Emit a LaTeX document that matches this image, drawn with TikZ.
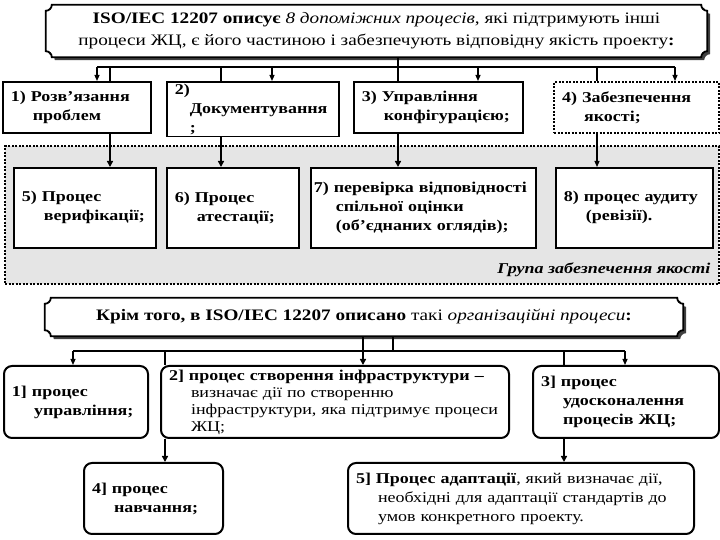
\documentclass[tikz,border=0pt]{standalone}
\usepackage{fontspec}
\setmainfont{Liberation Serif}[FakeStretch=1.2]
\usetikzlibrary{arrows.meta,backgrounds}

\newcommand\boxfont{\fontsize{15}{19}\selectfont}
\newcommand\ind{\hspace*{22pt}}
% plaque outline round a named node (hollow corners)
\newcommand\plaquepath[1]{([yshift=-6pt]#1.north west) arc[start angle=270,end angle=360,radius=6pt]
  -- ([xshift=-6pt]#1.north east) arc[start angle=180,end angle=270,radius=6pt]
  -- ([yshift=6pt]#1.south east) arc[start angle=90,end angle=180,radius=6pt]
  -- ([xshift=6pt]#1.south west) arc[start angle=0,end angle=90,radius=6pt] -- cycle}

\tikzset{
  banner/.style 2 args={minimum width=#1, minimum height=#2, align=center, inner sep=0pt},
  plaque/.style={draw=black, fill=white, line width=1.8pt},
  plaqueshadow/.style={fill=black!75, transform canvas={shift={(3pt,-3pt)}}},
  procbox/.style 2 args={draw, fill=white, line width=1.6pt, anchor=north west,
    align=left, text width=#1, minimum height=#2, inner xsep=8pt, inner ysep=2pt,
    font={\boxfont\bfseries}},
  qabox/.style 2 args={procbox={#1}{#2}, dash pattern=on 2pt off 1.5pt, line width=2.2pt},
  orgbox/.style 2 args={procbox={#1}{#2}, rounded corners=8pt, line width=2pt},
  qagroup/.style={fill=black!10, draw, dash pattern=on 2pt off 1.5pt, line width=2.2pt,
    anchor=north west, inner sep=0pt},
  bus/.style={line width=2.4pt},
  pass/.style={line width=2.4pt, -{Triangle[length=6pt,width=6pt]}},
  feed/.style={line width=1.2pt, -{Triangle[length=6pt,width=5pt]}},
}

\begin{document}
\begin{tikzpicture}[x=1pt,y=1pt]
  \useasboundingbox (0,0) rectangle (720,540);

  % quality assurance group
  \node[qagroup, minimum width=714pt, minimum height=138pt] (grp) at (4,395) {};
  \node[anchor=east, font={\boxfont\bfseries\itshape}] (grplbl) at (714,270) {Група забезпечення якості};

  % supporting processes
  \node[banner={661pt}{52pt}, font={\fontsize{16}{22}\selectfont}] (top) at (376.5,509)
    {\textbf{ISO/IEC 12207 описує} \textit{8 допоміжних процесів}, які підтримують інші\\
     процеси ЖЦ, є його частиною і забезпечують відповідну якість проекту\textbf{:}};
  \begin{scope}[on background layer]
    \fill[plaqueshadow] \plaquepath{top};
    \draw[plaque] \plaquepath{top};
  \end{scope}

  \node[procbox={132pt}{51pt}] (b1) at (2,459) {1) Розв'язання\\\ind проблем};
  \node[procbox={156pt}{51pt}] (b2) at (166,459) {2)\\\hspace*{15pt}Документування\\\hspace*{15pt};};
  \node[procbox={153pt}{51pt}] (b3) at (353,459) {3) Управління\\\ind конфігурацією;};
  \node[qabox={149pt}{51pt}] (b4) at (553,459) {4) Забезпечення\\\ind якості;};

  \node[procbox={126pt}{80pt}] (b5) at (13,373) {5) Процес\\\ind верифікації;};
  \node[procbox={116pt}{80pt}] (b6) at (166,373) {6) Процес\\\ind атестації;};
  \node[procbox={219pt}{80pt}, inner xsep=3pt] (b7) at (310,373) {7) перевірка відповідності\\\ind спільної оцінки\\\ind (об'єднаних оглядів);};
  \node[procbox={141pt}{80pt}] (b8) at (555,373) {8) процес аудиту\\\ind (ревізії).};

  \coordinate (q1) at (97,473);
  \coordinate (q2) at (272,473);
  \coordinate (q3) at (478,473);
  \coordinate (q4) at (675,473);
  \coordinate (p1) at (110,473);
  \coordinate (p2) at (221,473);
  \coordinate (p3) at (398,473);
  \coordinate (p4) at (597,473);

  \draw[bus] (q1) -- (q4);
  \draw[bus] (top.south -| p3) -- (p3 |- b3.north);
  \draw[bus] (p1) -- (p1 |- b1.north);
  \draw[bus] (p2) -- (p2 |- b2.north);
  \draw[bus] (p4) -- (p4 |- b4.north);
  \draw[feed] (q1) -- (q1 |- b1.north);
  \draw[feed] (q2) -- (q2 |- b2.north);
  \draw[feed] (q3) -- (q3 |- b3.north);
  \draw[feed] (q4) -- (q4 |- b4.north);
  \draw[pass] (b1.south -| p1) -- (b5.north -| p1);
  \draw[pass] (b2.south -| p2) -- (b6.north -| p2);
  \draw[pass] (b3.south -| p3) -- (b7.north -| p3);
  \draw[feed] (b4.south -| p4) -- (b8.north -| p4);

  % organisational processes
  \node[banner={638pt}{38pt}, font={\fontsize{16}{20}\selectfont}] (low) at (364,223)
    {\textbf{Крім того, в ISO/IEC 12207 описано} такі \textit{організаційні процеси}\textbf{:}};
  \begin{scope}[on background layer]
    \fill[plaqueshadow] \plaquepath{low};
    \draw[plaque] \plaquepath{low};
  \end{scope}

  \node[orgbox={128pt}{72pt}] (c1) at (3,175) {1] процес\\\ind управління;};
  \node[orgbox={332pt}{72pt}, font={\fontsize{15}{17}\selectfont}] (c2) at (160,175)
    {\textbf{2] процес створення інфраструктури –}\\\ind визначає дії по створенню\\\ind інфраструктури, яка підтримує процеси\\\ind ЖЦ;};
  \node[orgbox={170pt}{72pt}] (c3) at (532,175) {3] процес\\\ind удосконалення\\\ind процесів ЖЦ;};
  \node[orgbox={123pt}{71pt}] (c4) at (83,78) {4] процес\\\ind навчання;};
  \node[orgbox={330pt}{71pt}, font={\boxfont}] (c5) at (347,78)
    {\textbf{5] Процес адаптації}, який визначає дії,\\\ind необхідні для адаптації стандартів до\\\ind умов конкретного проекту.};

  \coordinate (r1) at (73,189);
  \coordinate (r2) at (165,189);
  \coordinate (r3) at (363,189);
  \coordinate (r4) at (393,189);
  \coordinate (r5) at (564,189);
  \coordinate (r6) at (625,189);

  \draw[bus] (r1) -- (r6);
  \draw[bus] (low.south -| r4) -- (r4);
  \draw[pass] (low.south -| r3) -- (r3 |- c2.north);
  \draw[bus] (r2) -- (r2 |- c2.north);
  \draw[bus] (r5) -- (r5 |- c3.north);
  \draw[feed] (r1) -- (r1 |- c1.north);
  \draw[feed] (r6) -- (r6 |- c3.north);
  \draw[pass] (c2.south -| r2) -- (c4.north -| r2);
  \draw[pass] (c3.south -| r5) -- (c5.north -| r5);
\end{tikzpicture}
\end{document}
